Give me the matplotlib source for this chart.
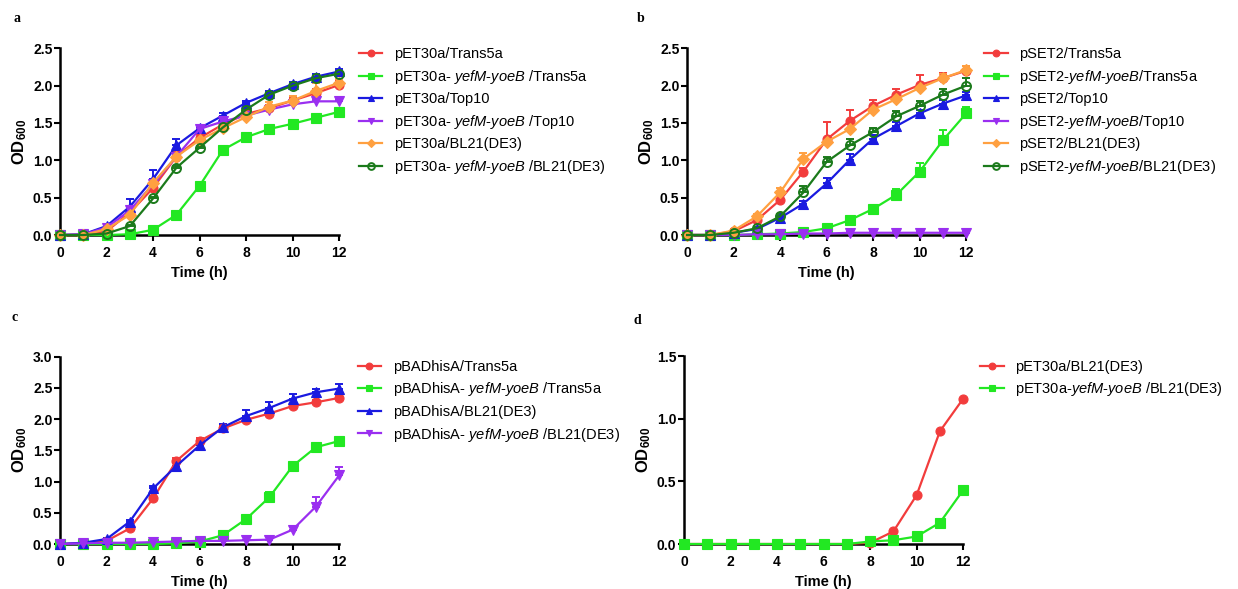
import numpy as np
import matplotlib
matplotlib.use("Agg")
import matplotlib.pyplot as plt
from matplotlib.ticker import FormatStrFormatter

plt.rcParams['font.family'] = ['Liberation Sans', 'DejaVu Sans']
plt.rcParams['mathtext.fontset'] = 'custom'
plt.rcParams['mathtext.rm'] = 'Liberation Sans'
plt.rcParams['mathtext.it'] = 'Liberation Sans:italic'
plt.rcParams['mathtext.bf'] = 'Liberation Sans:bold'

# --- DATA ---
hours = list(range(13))

# panel a: pET30a
a_trans5a = [0, 0, 0.05, 0.30, 0.63, 1.05, 1.30, 1.48, 1.62, 1.70, 1.80, 1.90, 2.01]
a_trans5a_err = [0, 0, 0.01, 0.03, 0.05, 0.08, 0.05, 0.04, 0.04, 0.04, 0.04, 0.05, 0.05]
a_yy_trans5a = [0, 0, 0.0, 0.01, 0.07, 0.27, 0.66, 1.14, 1.31, 1.42, 1.49, 1.57, 1.65]
a_yy_trans5a_err = [0, 0, 0, 0, 0.01, 0.02, 0.02, 0.02, 0.02, 0.02, 0.02, 0.02, 0.02]
a_top10 = [0, 0.01, 0.12, 0.38, 0.75, 1.20, 1.43, 1.60, 1.77, 1.90, 2.02, 2.12, 2.19]
a_top10_err = [0, 0, 0.02, 0.10, 0.12, 0.08, 0.04, 0.03, 0.03, 0.03, 0.03, 0.03, 0.03]
a_yy_top10 = [0, 0.01, 0.10, 0.33, 0.68, 1.05, 1.42, 1.52, 1.60, 1.68, 1.75, 1.79, 1.79]
a_yy_top10_err = [0, 0, 0.02, 0.03, 0.04, 0.04, 0.04, 0.04, 0.03, 0.03, 0.03, 0.03, 0.02]
a_bl21 = [0, 0, 0.08, 0.27, 0.70, 1.05, 1.27, 1.43, 1.58, 1.72, 1.80, 1.93, 2.04]
a_bl21_err = [0, 0, 0.02, 0.03, 0.04, 0.05, 0.05, 0.05, 0.04, 0.06, 0.06, 0.10, 0.05]
a_yy_bl21 = [0, 0, 0.02, 0.12, 0.49, 0.90, 1.17, 1.44, 1.68, 1.88, 2.00, 2.10, 2.16]
a_yy_bl21_err = [0, 0, 0.01, 0.02, 0.02, 0.02, 0.02, 0.02, 0.02, 0.02, 0.02, 0.02, 0.02]

# panel b: pSET2
b_trans5a = [0, 0, 0.05, 0.20, 0.47, 0.85, 1.28, 1.53, 1.73, 1.88, 2.01, 2.10, 2.20]
b_trans5a_err = [0, 0, 0.02, 0.03, 0.05, 0.05, 0.23, 0.14, 0.08, 0.08, 0.13, 0.07, 0.06]
b_yy_trans5a = [0, 0, 0, 0.01, 0.02, 0.04, 0.09, 0.20, 0.35, 0.54, 0.85, 1.27, 1.63]
b_yy_trans5a_err = [0, 0, 0, 0, 0, 0.01, 0.02, 0.03, 0.04, 0.07, 0.11, 0.14, 0.08]
b_top10 = [0, 0, 0.03, 0.08, 0.23, 0.42, 0.69, 1.01, 1.29, 1.46, 1.63, 1.76, 1.87]
b_top10_err = [0, 0, 0.01, 0.02, 0.03, 0.04, 0.08, 0.07, 0.05, 0.05, 0.05, 0.05, 0.04]
b_yy_top10 = [0, 0, 0, 0.01, 0.01, 0.02, 0.02, 0.03, 0.03, 0.03, 0.03, 0.03, 0.03]
b_yy_top10_err = [0, 0, 0, 0, 0, 0, 0.01, 0.01, 0.01, 0.01, 0.01, 0.01, 0.01]
b_bl21 = [0, 0, 0.06, 0.25, 0.57, 1.02, 1.25, 1.42, 1.68, 1.82, 1.97, 2.10, 2.21]
b_bl21_err = [0, 0, 0.02, 0.03, 0.06, 0.08, 0.05, 0.06, 0.05, 0.05, 0.05, 0.05, 0.05]
b_yy_bl21 = [0, 0, 0.03, 0.09, 0.25, 0.57, 0.98, 1.20, 1.38, 1.59, 1.73, 1.88, 2.00]
b_yy_bl21_err = [0, 0, 0.01, 0.02, 0.03, 0.08, 0.07, 0.08, 0.05, 0.07, 0.07, 0.07, 0.10]

# panel c: pBADhisA
c_trans5a = [0, 0.01, 0.05, 0.25, 0.73, 1.33, 1.65, 1.85, 1.99, 2.09, 2.21, 2.27, 2.34]
c_trans5a_err = [0, 0, 0.01, 0.02, 0.04, 0.05, 0.04, 0.04, 0.04, 0.04, 0.03, 0.03, 0.03]
c_yy_trans5a = [0, 0, 0, 0, 0, 0.01, 0.04, 0.14, 0.40, 0.75, 1.25, 1.55, 1.65]
c_yy_trans5a_err = [0, 0, 0, 0, 0, 0.01, 0.01, 0.03, 0.07, 0.08, 0.07, 0.04, 0.04]
c_bl21 = [0, 0.02, 0.08, 0.36, 0.89, 1.25, 1.58, 1.87, 2.05, 2.18, 2.33, 2.43, 2.49]
c_bl21_err = [0, 0, 0.01, 0.03, 0.04, 0.04, 0.04, 0.06, 0.10, 0.10, 0.08, 0.06, 0.08]
c_yy_bl21 = [0, 0.01, 0.02, 0.02, 0.03, 0.04, 0.05, 0.05, 0.06, 0.07, 0.23, 0.60, 1.10]
c_yy_bl21_err = [0, 0, 0, 0, 0, 0, 0, 0, 0, 0, 0.04, 0.16, 0.14]

# panel d: pET30a in BL21(DE3)
d_bl21 = [0, 0, 0, 0, 0, 0, 0, 0, 0.01, 0.10, 0.39, 0.90, 1.16]
d_yy_bl21 = [0, 0, 0, 0, 0, 0, 0, 0, 0.02, 0.03, 0.06, 0.17, 0.43]

YY = r'$\mathit{yefM}$-$\mathit{yoeB}$'

# --- STYLES ---
RED = '#f23c3c'
GREEN = '#22e822'
BLUE = '#1a1ae0'
PURPLE = '#9a2ff0'
ORANGE = '#ffa040'
DGREEN = '#1b7a1b'


def sty(color, marker, open_marker=False, ms=6.5):
    return dict(color=color, marker=marker, markersize=ms,
                markerfacecolor='none' if open_marker else color,
                markeredgecolor=color, markeredgewidth=1.4 if open_marker else 0.8)


def plot_series(ax, y, err, label, st):
    y = np.array(y)
    if err is not None:
        ax.errorbar(hours, y, yerr=[np.zeros(len(y)), np.array(err)], fmt='none',
                    ecolor=st['color'], elinewidth=1.4, capsize=3, capthick=1.4,
                    clip_on=False, zorder=2)
    ax.plot(hours, y, lw=1.6, label=label, clip_on=False, zorder=3, **st)


def style_axes(ax, ymax, ystep):
    ax.set_xlim(0, 12)
    ax.set_ylim(0, ymax)
    ax.set_xticks(range(0, 13, 2))
    ax.set_yticks(np.arange(0, ymax + 0.01, ystep))
    ax.yaxis.set_major_formatter(FormatStrFormatter('%.1f'))
    for s in ['top', 'right']:
        ax.spines[s].set_visible(False)
    for s in ['left', 'bottom']:
        ax.spines[s].set_linewidth(1.8)
    ax.tick_params(direction='out', length=4, width=1.5, labelsize=10)
    ax.tick_params(axis='x', pad=4)
    ax.tick_params(axis='y', pad=1.5)
    for lab in ax.get_xticklabels() + ax.get_yticklabels():
        lab.set_fontweight('bold')
    ax.set_xlabel('Time (h)', fontsize=10.5, fontweight='bold', labelpad=4)
    ax.set_ylabel(r'$\mathbf{OD_{600}}$', fontsize=12, labelpad=3)


def add_legend(ax, x, y):
    ax.legend(loc='upper left', bbox_to_anchor=(x, y), bbox_transform=fig.transFigure,
              frameon=False, fontsize=10.5, handlelength=1.6, handletextpad=0.8,
              labelspacing=0.45, markerscale=0.75, borderaxespad=0, borderpad=0)


fig = plt.figure(figsize=(12.38, 5.89), dpi=100)

ax_a = fig.add_axes([0.0485, 0.601, 0.2255, 0.317])
ax_b = fig.add_axes([0.555, 0.601, 0.2255, 0.317])
ax_c = fig.add_axes([0.0485, 0.0764, 0.2255, 0.318])
ax_d = fig.add_axes([0.5525, 0.0764, 0.2255, 0.319])

# panel a
plot_series(ax_a, a_trans5a, a_trans5a_err, 'pET30a/Trans5a', sty(RED, 'o'))
plot_series(ax_a, a_yy_trans5a, a_yy_trans5a_err, 'pET30a- ' + YY + ' /Trans5a', sty(GREEN, 's'))
plot_series(ax_a, a_top10, a_top10_err, 'pET30a/Top10', sty(BLUE, '^'))
plot_series(ax_a, a_yy_top10, a_yy_top10_err, 'pET30a- ' + YY + ' /Top10', sty(PURPLE, 'v'))
plot_series(ax_a, a_bl21, a_bl21_err, 'pET30a/BL21(DE3)', sty(ORANGE, 'D', ms=6))
plot_series(ax_a, a_yy_bl21, a_yy_bl21_err, 'pET30a- ' + YY + ' /BL21(DE3)', sty(DGREEN, 'o', True))
style_axes(ax_a, 2.5, 0.5)
add_legend(ax_a, 0.29, 0.92)

# panel b
plot_series(ax_b, b_trans5a, b_trans5a_err, 'pSET2/Trans5a', sty(RED, 'o'))
plot_series(ax_b, b_yy_trans5a, b_yy_trans5a_err, 'pSET2-' + YY + '/Trans5a', sty(GREEN, 's'))
plot_series(ax_b, b_top10, b_top10_err, 'pSET2/Top10', sty(BLUE, '^'))
plot_series(ax_b, b_yy_top10, b_yy_top10_err, 'pSET2-' + YY + '/Top10', sty(PURPLE, 'v'))
plot_series(ax_b, b_bl21, b_bl21_err, 'pSET2/BL21(DE3)', sty(ORANGE, 'D', ms=6))
plot_series(ax_b, b_yy_bl21, b_yy_bl21_err, 'pSET2-' + YY + '/BL21(DE3)', sty(DGREEN, 'o', True))
style_axes(ax_b, 2.5, 0.5)
add_legend(ax_b, 0.795, 0.92)

# panel c
plot_series(ax_c, c_trans5a, c_trans5a_err, 'pBADhisA/Trans5a', sty(RED, 'o'))
plot_series(ax_c, c_yy_trans5a, c_yy_trans5a_err, 'pBADhisA- ' + YY + ' /Trans5a', sty(GREEN, 's'))
plot_series(ax_c, c_bl21, c_bl21_err, 'pBADhisA/BL21(DE3)', sty(BLUE, '^'))
plot_series(ax_c, c_yy_bl21, c_yy_bl21_err, 'pBADhisA- ' + YY + ' /BL21(DE3)', sty(PURPLE, 'v'))
style_axes(ax_c, 3.0, 0.5)
add_legend(ax_c, 0.289, 0.389)

# panel d
plot_series(ax_d, d_bl21, None, 'pET30a/BL21(DE3)', sty(RED, 'o'))
plot_series(ax_d, d_yy_bl21, None, 'pET30a-' + YY + ' /BL21(DE3)', sty(GREEN, 's'))
style_axes(ax_d, 1.5, 0.5)
add_legend(ax_d, 0.792, 0.389)

# panel letters
for lbl, x, y in [('a', 0.011, 0.963), ('b', 0.514, 0.963), ('c', 0.009, 0.455), ('d', 0.512, 0.45)]:
    fig.text(x, y, lbl, fontsize=10, fontweight='bold', family='Liberation Serif')

fig.savefig('out.png', dpi=100)
